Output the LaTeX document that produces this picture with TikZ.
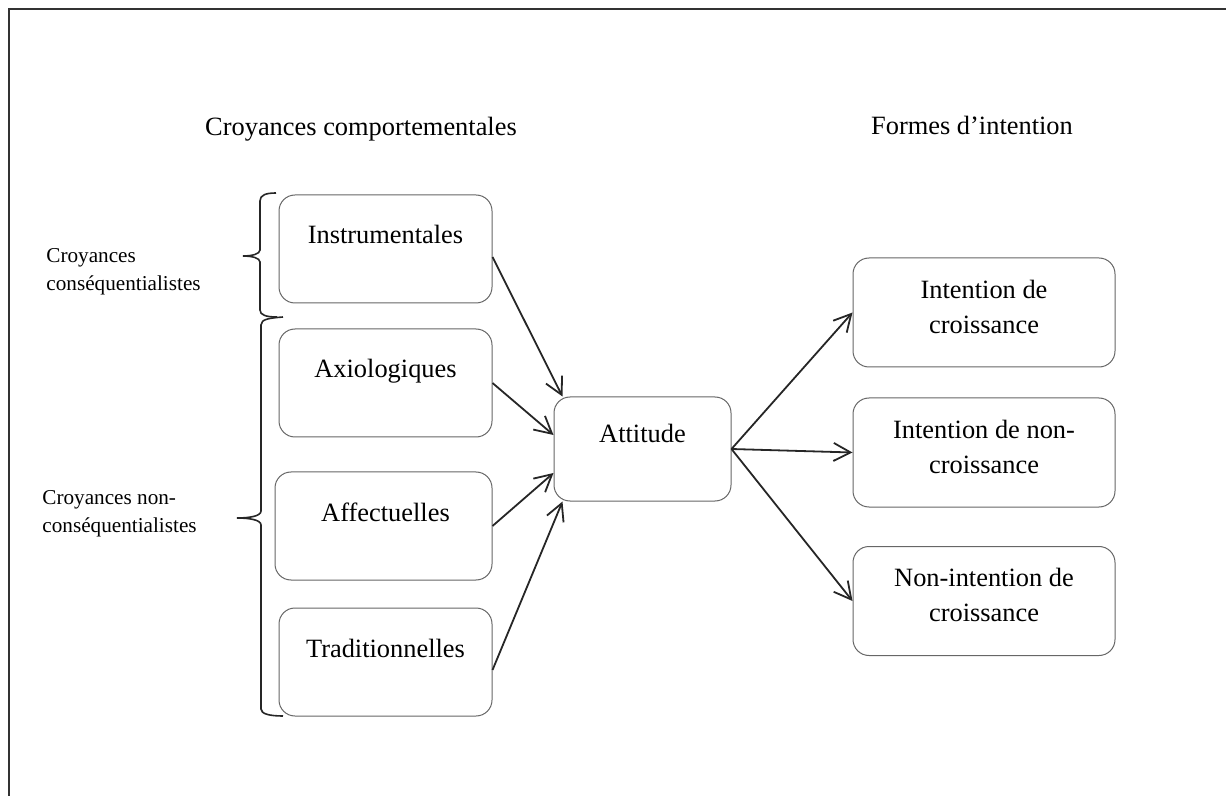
\documentclass[tikz,border=0pt]{standalone}
\usepackage{fontspec}
\setmainfont{Liberation Serif}
\usetikzlibrary{arrows.meta}

\begin{document}
\begin{tikzpicture}[x=0.5pt, y=-0.5pt, >={Straight Barb[length=8.5pt,width=9pt]},
  box/.style={draw=black!60, line width=0.5pt, rounded corners=8pt, inner sep=0pt},
  left box/.style={box, minimum width=106.5pt, minimum height=54pt},
  txt/.style={inner sep=0pt, align=center, font=\fontsize{13.2}{17.5}\selectfont},
  side/.style={inner sep=0pt, align=left, font=\fontsize{10.6}{14}\selectfont},
  link/.style={->, line width=0.9pt, black!85},
  brace/.style={line width=0.8pt, black!85}]
  \useasboundingbox (0,0) rectangle (1226,796);
  \draw[line width=1.2pt, black!80] (1226,9) -- (9,9) -- (9,796);

  % titres
  \node[txt, anchor=base] (hcroy) at (361,136) {Croyances comportementales};
  \node[txt, anchor=base] (hform) at (972,135) {Formes d’intention};

  % croyances
  \node[left box] (instr) at (385.5,249) {};
  \node[left box] (axio) at (385.5,383) {};
  \node[left box, minimum width=108.5pt] (aff) at (383.5,526) {};
  \node[left box] (trad) at (385.5,662) {};
  \node[txt, anchor=base] (instr-t) at ([shift={(0,-5)}]instr.center) {Instrumentales};
  \node[txt, anchor=base] (axio-t) at ([shift={(0,-5)}]axio.center) {Axiologiques};
  \node[txt, anchor=base] (aff-t) at ([shift={(2,-5)}]aff.center) {Affectuelles};
  \node[txt, anchor=base] (trad-t) at ([shift={(0,-5)}]trad.center) {Traditionnelles};

  % attitude
  \node[box, minimum width=88.5pt, minimum height=52pt] (att) at (642.5,449) {};
  \node[txt, anchor=base] (att-t) at ([shift={(0,-6)}]att.center) {Attitude};

  % formes d'intention
  \node[box, minimum width=131pt, minimum height=54.5pt] (int1) at (984,312.5) {};
  \node[box, minimum width=131pt, minimum height=54.5pt] (int2) at (984,452.5) {};
  \node[box, minimum width=131pt, minimum height=54.5pt] (int3) at (984,601) {};
  \node[txt] (int1-t) at ([shift={(0,-6)}]int1.center) {Intention de\\croissance};
  \node[txt] (int2-t) at ([shift={(0,-6)}]int2.center) {Intention de non-\\croissance};
  \node[txt] (int3-t) at ([shift={(0,-6)}]int3.center) {Non-intention de\\croissance};

  % accolades
  \draw[brace] (276,193) .. controls (266,193) and (260,195) .. (260,201)
    -- (260,250) .. controls (260,254) and (252,256) .. (243,256)
    .. controls (252,256) and (260,258) .. (260,262)
    -- (260,310) .. controls (260,315) and (266,317) .. (277,317);
  \draw[brace] (283,317) .. controls (270,318) and (261,319) .. (261,325)
    -- (261,511) .. controls (261,516) and (250,518) .. (237,518)
    .. controls (250,518) and (261,520) .. (261,525)
    -- (261,709) .. controls (261,714) and (270,716) .. (283,716);
  \node[side, anchor=west] (conseq) at (46,272) {Croyances\\conséquentialistes};
  \node[side, anchor=west] (nonconseq) at (42,514) {Croyances non-\\conséquentialistes};

  \draw[link] ([shift={(0,8)}]instr.east) -- ([shift={(9,0)}]att.north west);
  \draw[link] (axio.east) -- ([shift={(0,-14)}]att.west);
  \draw[link] (aff.east) -- ([shift={(0,24)}]att.west);
  \draw[link] ([shift={(0,8)}]trad.east) -- ([shift={(9,0)}]att.south west);
  \draw[link] (att.east) -- (int1.west);
  \draw[link] (att.east) -- (int2.west);
  \draw[link] (att.east) -- (int3.west);
\end{tikzpicture}
\end{document}
